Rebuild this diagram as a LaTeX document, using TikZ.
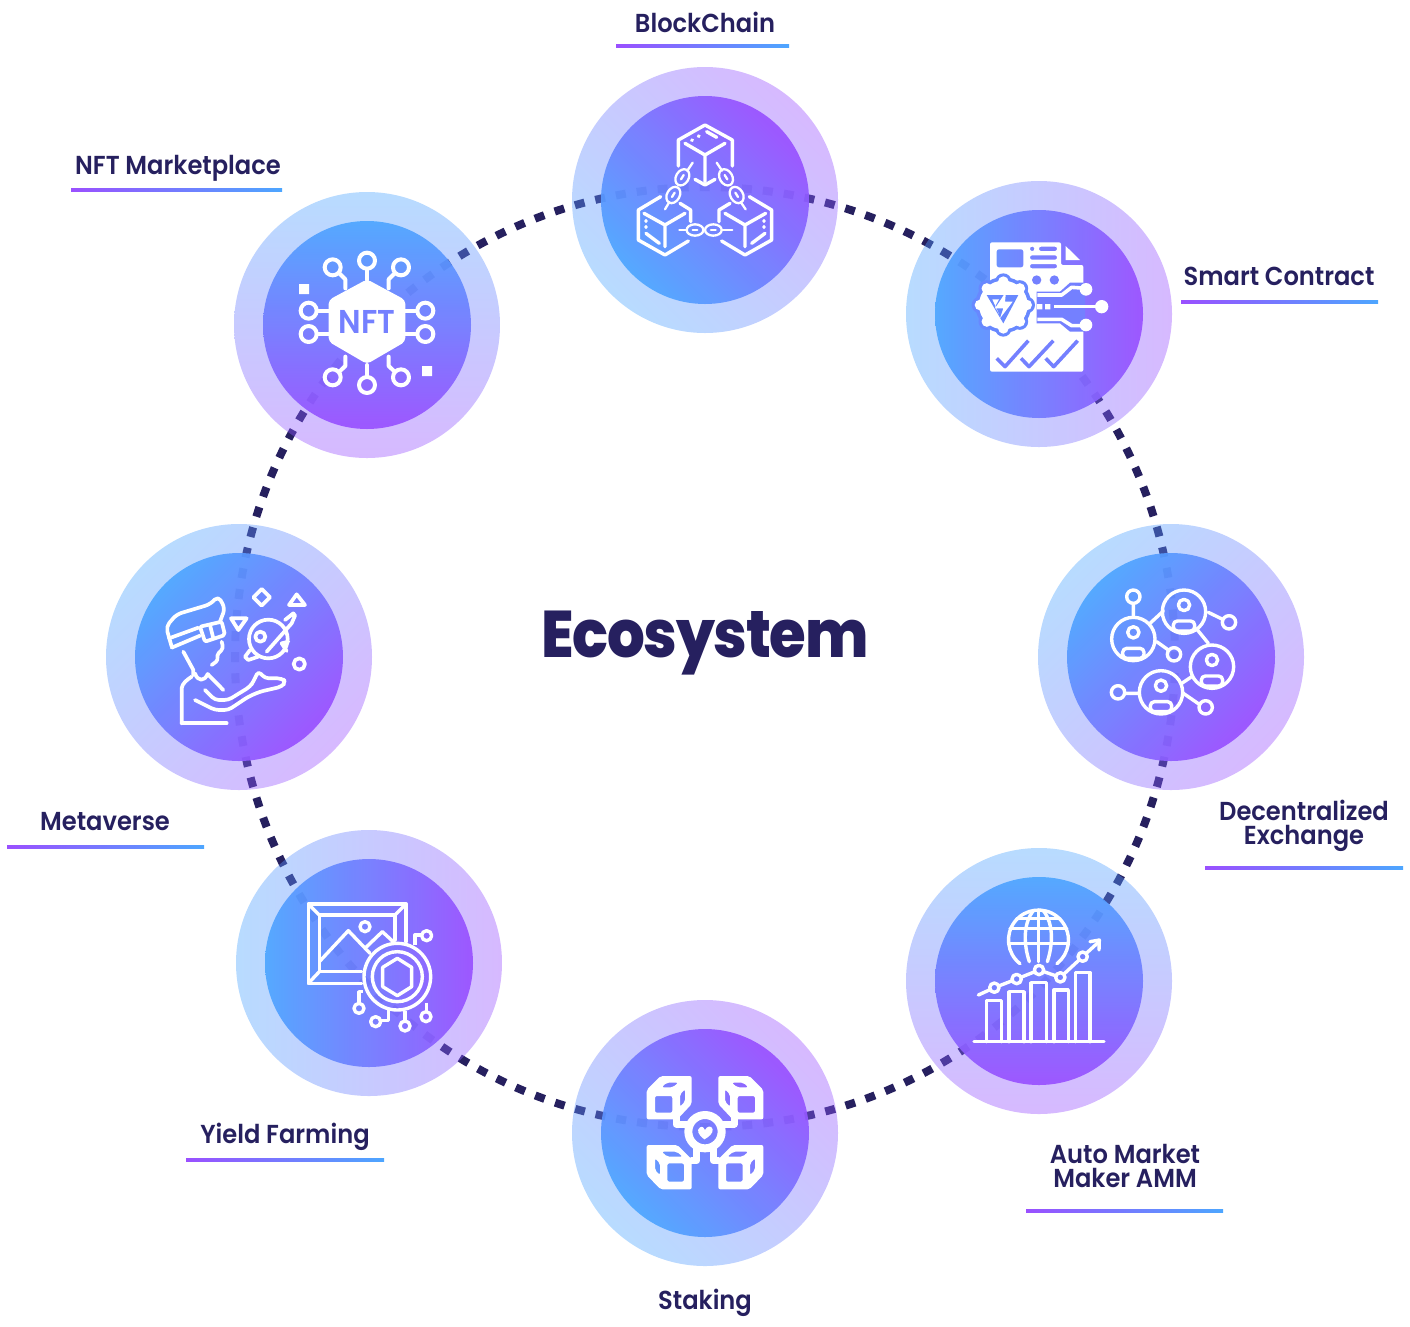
\documentclass[tikz,border=0pt]{standalone}
\usepackage{fontspec}
\setmainfont{Poppins}[BoldFont={Poppins SemiBold}, BoldFeatures={FakeStretch=.93}]
\newfontfamily\ecofont{Poppins ExtraBold}[FakeStretch=.9, LetterSpace=-2]
\usetikzlibrary{positioning}
\definecolor{ink}{HTML}{26205F}
\definecolor{sky}{HTML}{4DA6FF}
\definecolor{violet}{HTML}{9A50FF}
\definecolor{midtone}{HTML}{7480FF}
\definecolor{lefttone}{HTML}{6888FF}
\tikzset{
    halo/.style={circle, inner sep=0, minimum size=266, fill opacity=.4, top color=sky, bottom color=violet, shading angle=#1}, % pale outer disc
    core/.style={circle, inner sep=0, minimum size=208, fill opacity=.93, top color=sky, bottom color=violet, shading angle=#1}, % strong inner disc
    ringline/.style={draw=ink, line width=8pt, dash pattern=on 10pt off 11.094pt, dash phase=5pt},
    tag/.style={font=\bfseries\fontsize{26}{24}\selectfont, text=ink, align=center, inner sep=0},
    rulebar/.style={inner sep=0, minimum height=2.2, minimum width=#1, left color=violet, right color=sky},
    zoomed/.style={shift={(#1)}, x=.33333pt, y=-.33333pt}, % icon coordinates are in thirds of a pixel
    icon/.style={draw=white, line width=3.4pt, line join=round, line cap=round},
    link/.style={icon, line width=2.3pt},
    blob/.style={fill=white, even odd rule, rounded corners=2pt},
    dotring/.style={icon, fill=#1},
}

\begin{document}
\begin{tikzpicture}[x=1pt, y=-1pt]
    \useasboundingbox (0,0) rectangle (1410,1326);
    \coordinate (hub) at (705,657);
    \draw[ringline] (hub) circle (470);

    \foreach \name/\px/\py/\ang in {chain/705/200/135, smart/1039/314/90, dex/1171/657/45, amm/1039/981/0,
                                    stake/705/1133/135, yield/369/963/90, meta/239/657/45, nft/367/325/0}{
        \node[halo=\ang] (\name) at (\px,\py) {};
        \node[core=\ang] (\name core) at (\px,\py) {};
    }

    \node[font=\ecofont\fontsize{66}{66}\selectfont, text=ink, inner sep=0, anchor=base] (eco) at (705,657) {Ecosystem};

    \node[tag] (tagchain) at (705,22) {BlockChain};
    \node[rulebar=173] (barchain) at (702.5,46) {};
    \node[tag] (tagnft) at (178,168) {NFT Marketplace};
    \node[rulebar=211] (barnft) at (176.5,190) {};
    \node[tag] (tagsmart) at (1279,276) {Smart Contract};
    \node[rulebar=197] (barsmart) at (1279.5,302) {};
    \node[tag] (tagdex) at (1304,826) {Decentralized\\Exchange};
    \node[rulebar=198] (bardex) at (1304,868) {};
    \node[tag] (tagamm) at (1125,1166) {Auto Market\\Maker AMM};
    \node[rulebar=197] (baramm) at (1124.5,1211) {};
    \node[tag] (tagstake) at (705,1303) {Staking};
    \node[tag] (tagyield) at (285,1137) {Yield Farming};
    \node[rulebar=198] (baryield) at (285,1160) {};
    \node[tag] (tagmeta) at (105,822) {Metaverse};
    \node[rulebar=197] (barmeta) at (105.5,847) {};

    % blockchain
    \begin{scope}[zoomed={570,60}]
        \draw[icon] (325,318) -- (325,240) -- (405,195) -- (487,240) -- (487,318);
        \draw[icon] (345,250) -- (405,285) -- (465,250) (405,285) -- (405,365);
        \draw[icon] (375,358) -- (405,375) -- (435,358);
        \draw[icon] (410,215) -- (440,232) (365,241) -- (367,240) (385,229) -- (387,228);
        \draw[icon] (272,410) -- (205,450) -- (205,540) -- (285,585) -- (355,543);
        \draw[icon] (330,430) -- (362,450) -- (362,485);
        \draw[icon] (222,460) -- (285,495) -- (345,460) (285,495) -- (285,560);
        \draw[icon] (228,482) -- (228,484) (228,500) -- (228,502) (228,520) -- (268,550);
        \draw[icon] (538,410) -- (605,450) -- (605,540) -- (525,585) -- (455,543);
        \draw[icon] (480,430) -- (447,450) -- (447,485);
        \draw[icon] (465,460) -- (525,495) -- (587,460) (525,495) -- (525,560);
        \draw[icon] (582,482) -- (582,484) (582,500) -- (582,502) (585,520) -- (545,550);
        \draw[link] (368,308) -- (352,332) (298,426) -- (285,448);
        \draw[link] (337,352) ellipse [x radius=26, y radius=19, rotate=60];
        \draw[link] (310,405) ellipse [x radius=26, y radius=19, rotate=60];
        \draw[link] (333,358) -- (341,345) (306,411) -- (314,398);
        \draw[link] (440,308) -- (456,332) (512,426) -- (527,448);
        \draw[link] (468,352) ellipse [x radius=26, y radius=19, rotate=-60];
        \draw[link] (500,405) ellipse [x radius=26, y radius=19, rotate=-60];
        \draw[link] (464,345) -- (472,358) (496,398) -- (504,411);
        \draw[link] (375,510) ellipse [x radius=25, y radius=17];
        \draw[link] (430,510) ellipse [x radius=25, y radius=17];
        \draw[link] (328,510) -- (350,510) (368,510) -- (382,510) (423,510) -- (437,510) (457,510) -- (487,510);
    \end{scope}

    % smart contract
    \begin{scope}[zoomed={905,180}]
        \fill[blob] (255,187) -- (468,187) -- (468,255) -- (535,255) -- (535,575) -- (255,575) -- cycle
            (275,208) -- (355,208) -- (355,262) -- (275,262) -- cycle
            (375,200) -- (388,200) -- (388,213) -- (375,213) -- cycle
            (402,200) -- (456,200) -- (456,213) -- (402,213) -- cycle
            (375,226) -- (456,226) -- (456,239) -- (375,239) -- cycle
            (375,252) -- (456,252) -- (456,265) -- (375,265) -- cycle;
        \fill[white] (482,198) -- (525,240) -- (482,240) -- cycle;
        \fill[midtone] (395,300) circle (14) (448,300) circle (14);
        \fill[midtone] (395,335) -- (465,335) -- (495,308) -- (540,308) -- (540,455) -- (495,455) -- (465,430) -- (395,430) -- cycle;
        \draw[icon, line width=3.6pt, line cap=butt] (397,345) -- (470,345) -- (500,322) -- (543,325);
        \draw[icon, line width=3.6pt, line cap=butt] (397,418) -- (470,418) -- (500,437) -- (543,437);
        \draw[icon, line width=3.6pt, line cap=butt] (448,380) -- (590,380);
        \fill[white] (543,328) circle (19) (543,435) circle (19) (590,380) circle (20);
        \fill[white] (396,372) rectangle (412,388) (420,372) rectangle (436,388);
        \foreach \a in {0,45,...,315}{
            \fill[lefttone] (295,375) ++(\a:70) circle (25);
        }
        \fill[lefttone] (295,375) circle (84);
        \fill[white] (295,375) circle (73);
        \foreach \a in {0,45,...,315}{
            \fill[white] (295,375) ++(\a:70) circle (16);
        }
        \fill[lefttone] (245,345) -- (340,345) -- (295,430) -- cycle;
        \fill[white] (262,358) -- (282,358) -- (270,380) -- (282,402) -- cycle;
        \fill[white] (303,335) -- (270,385) -- (295,385) -- (285,415) -- (323,365) -- (300,365) -- cycle;
        \draw[icon, line width=3.6pt, draw=midtone, line cap=butt] (275,535) -- (300,560) -- (370,482) (348,535) -- (372,560) -- (445,482) (422,535) -- (446,560) -- (518,482);
    \end{scope}

    % decentralized exchange
    \begin{scope}[zoomed={1040,525}]
        \foreach \cx/\cy in {280/342, 432/260, 516/425, 363/502}{
            \draw[icon] (\cx,\cy) circle (65);
            \draw[icon] (\cx,\cy-20) circle (17);
            \begin{scope}
                \clip (\cx,\cy) circle (65);
                \draw[icon, rounded corners=4pt] (\cx-32,\cy+28) rectangle (\cx+32,\cy+58);
            \end{scope}
        }
        \draw[icon] (280,215) circle (20) (402,388) circle (20) (567,292) circle (20) (234,502) circle (20) (497,547) circle (20);
        \draw[icon] (280,236) -- (280,277) (350,350) -- (385,375) (505,262) -- (548,283) (255,505) -- (298,505) (430,505) -- (478,538);
        \draw[icon] (330,295) -- (370,258) (470,312) -- (505,355) (425,475) -- (455,455);
    \end{scope}

    % auto market maker
    \begin{scope}[zoomed={905,850}]
        \draw[icon] (345,341) arc [start angle=128, end angle=412, radius=90];
        \draw[icon] (315,235) -- (485,235) (315,280) -- (485,280) (335,205) -- (465,205) (400,180) -- (400,335);
        \draw[icon] (373,335) .. controls (355,280) and (355,220) .. (385,182);
        \draw[icon] (427,335) .. controls (445,280) and (445,220) .. (415,182);
        \draw[icon] (245,575) -- (245,452) -- (290,452) -- (290,575);
        \draw[icon] (312,575) -- (312,425) -- (357,425) -- (357,575);
        \draw[icon] (378,575) -- (378,398) -- (425,398) -- (425,575);
        \draw[icon] (447,575) -- (447,420) -- (490,420) -- (490,575);
        \draw[icon] (512,575) -- (512,367) -- (555,367) -- (555,575);
        \draw[icon] (207,575) -- (597,575);
        \draw[icon] (220,435) -- (268,413) -- (335,387) -- (402,360) -- (466,382) -- (533,320) -- (582,275);
        \draw[icon] (555,275) -- (583,270) -- (582,300);
        \draw[dotring=midtone] (268,413) circle (14) (335,387) circle (14) (402,360) circle (14) (466,382) circle (14) (533,320) circle (14);
    \end{scope}

    % staking
    \begin{scope}[zoomed={570,1000}]
        \fill[blob] (230,270) -- (272,228) -- (365,228) -- (365,312) -- (322,358) -- (230,358) -- cycle
            (255,288) -- (307,288) -- (307,338) -- (255,338) -- cycle
            (275,262) -- (290,248) -- (325,248) -- (308,262) -- cycle
            (330,283) -- (345,268) -- (345,305) -- (330,320) -- cycle;
        \fill[blob] (580,270) -- (538,228) -- (445,228) -- (445,312) -- (488,358) -- (580,358) -- cycle
            (555,288) -- (503,288) -- (503,338) -- (555,338) -- cycle
            (535,262) -- (520,248) -- (485,248) -- (502,262) -- cycle
            (480,283) -- (465,268) -- (465,305) -- (480,320) -- cycle;
        \fill[blob] (230,435) -- (322,435) -- (365,478) -- (365,568) -- (272,568) -- (230,525) -- cycle
            (292,490) -- (342,490) -- (342,545) -- (292,545) -- cycle
            (275,455) -- (320,455) -- (338,470) -- (292,470) -- cycle
            (255,475) -- (270,490) -- (270,525) -- (255,510) -- cycle;
        \fill[blob] (580,435) -- (488,435) -- (445,478) -- (445,568) -- (538,568) -- (580,525) -- cycle
            (468,490) -- (518,490) -- (518,545) -- (468,545) -- cycle
            (490,455) -- (535,455) -- (518,470) -- (472,470) -- cycle
            (555,475) -- (540,490) -- (540,525) -- (555,510) -- cycle;
        \draw[icon, line width=7pt] (318,350) -- (318,372) -- (350,372) (492,350) -- (492,372) -- (460,372);
        \draw[icon, line width=7pt] (380,440) -- (380,482) -- (365,482) (430,440) -- (430,482) -- (445,482);
        \draw[icon, line width=8pt] (405,395) circle (50);
        \fill[white] (403,418) .. controls (385,405) and (378,390) .. (390,382) .. controls (398,377) and (403,385) .. (405,390)
            .. controls (410,378) and (425,375) .. (428,388) .. controls (430,400) and (415,412) .. (403,418) -- cycle;
    \end{scope}

    % yield farming
    \begin{scope}[zoomed={235,830}]
        \draw[icon] (380,460) -- (220,460) -- (220,222) -- (513,222) -- (513,335);
        \draw[icon] (380,425) -- (253,425) -- (253,255) -- (480,255) -- (480,330);
        \draw[icon] (220,222) -- (253,255) (513,222) -- (480,255) (220,460) -- (253,425);
        \draw[icon] (253,395) -- (340,302) -- (405,370) (395,350) -- (442,305) -- (480,340);
        \draw[icon] (390,290) circle (15);
        \draw[icon] (487,440) circle (100) (487,440) circle (75);
        \draw[icon] (487,385) -- (530,412) -- (530,470) -- (487,497) -- (443,470) -- (443,412) -- cycle;
        \draw[icon, line cap=butt] (540,345) -- (540,315) -- (560,315) (383,485) -- (372,485) -- (372,520);
        \draw[icon, line cap=butt] (460,540) -- (460,572) -- (437,572) (510,543) -- (510,573) (575,518) -- (575,545);
        \draw[icon] (575,317) circle (15) (372,535) circle (15) (422,575) circle (15) (510,588) circle (15) (573,560) circle (15);
    \end{scope}

    % metaverse
    \begin{scope}[zoomed={105,525}, icon/.append style={line width=3.7pt}]
        \draw[icon, rounded corners=5pt] (200,365) -- (183,305) -- (215,268) -- (315,238) -- (340,213) -- (360,250) -- (345,290);
        \draw[icon] (200,368) -- (285,332) (192,340) -- (280,308);
        \draw[icon, rounded corners=2pt] (285,305) -- (350,290) -- (360,330) -- (300,350) -- cycle;
        \draw[icon] (315,300) -- (325,340);
        \draw[icon, rounded corners=3pt] (350,350) -- (355,370) -- (335,390) -- (340,405) -- (320,420);
        \draw[icon] (235,380) -- (265,435) -- (265,450);
        \draw[icon] (270,445) .. controls (278,470) and (298,470) .. (308,447) -- (355,495);
        \draw[icon] (230,595) -- (230,490) .. controls (232,475) and (245,465) .. (260,455);
        \draw[icon] (230,595) -- (365,595);
        \draw[icon, rounded corners=4pt] (300,495) -- (330,525) -- (370,525) -- (435,485) -- (445,470) -- (460,438) -- (480,460) -- (530,460)
            -- (543,470) -- (530,485) -- (465,500) -- (430,515) -- (370,555) -- (330,555) -- (270,525);
        \draw[icon] (378,280) -- (425,280) -- (400,315) -- cycle;
        \draw[icon] (575,208) -- (600,240) -- (552,240) -- cycle;
        \draw[icon] (470,192) -- (495,217) -- (470,242) -- (445,217) -- cycle;
        \draw[icon] (583,417) circle (17);
        \draw[icon] (490,342) circle (58) (466,335) circle (15);
        \draw[icon] (485,380) -- (560,295) (540,285) -- (565,265) -- (570,272) -- (560,295);
        \draw[icon] (435,375) -- (420,395) -- (430,405) -- (460,395);
        \draw[icon] (550,350) -- (530,355) -- (545,378);
    \end{scope}

    % nft
    \begin{scope}[zoomed={232,190}]
        \fill[blob, rounded corners=4pt] (405,268) -- (520,330) -- (520,455) -- (405,522) -- (290,455) -- (290,330) -- cycle;
        \node[font=\bfseries\fontsize{33}{33}\selectfont, text=midtone, inner sep=0] (nftmark) at (405,397) {NFT};
        \foreach \cx/\cy in {405/212, 302/232, 507/232, 230/362, 230/432, 580/362, 580/432, 405/585, 302/562, 507/562}{
            \draw[icon, line width=4pt] (\cx,\cy) circle (24);
        }
        \draw[icon, line width=4pt] (405,238) -- (405,270) (405,525) -- (405,560);
        \draw[icon, line width=4pt] (322,250) -- (340,268) -- (340,295) (488,250) -- (470,268) -- (470,295);
        \draw[icon, line width=4pt] (322,545) -- (340,528) -- (340,500) (488,545) -- (470,528) -- (470,500);
        \draw[icon, line width=4pt] (255,362) -- (290,362) (255,432) -- (290,432) (520,362) -- (555,362) (520,432) -- (555,432);
        \fill[white] (201,282) rectangle (231,312) (570,528) rectangle (600,558);
    \end{scope}
\end{tikzpicture}
\end{document}
